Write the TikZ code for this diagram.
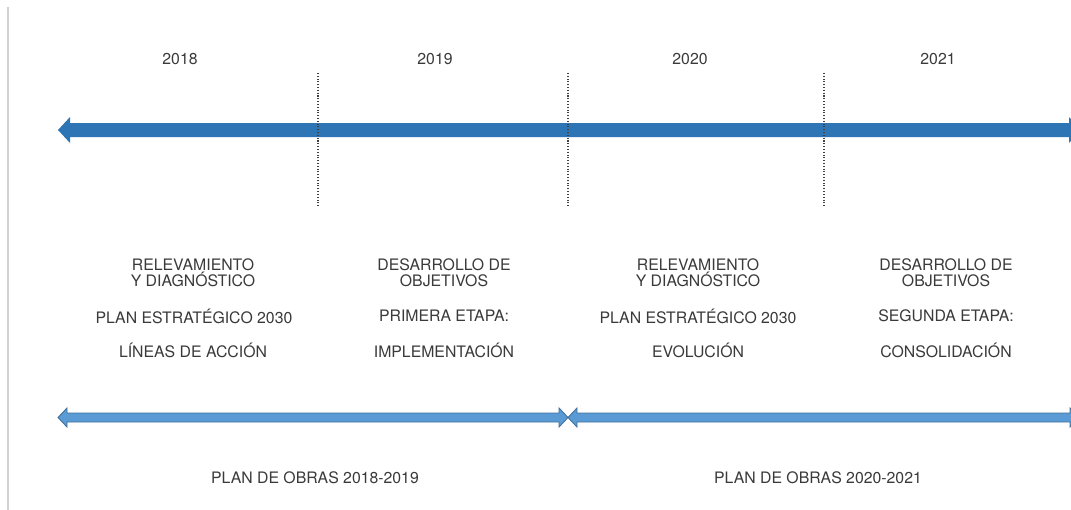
\documentclass[tikz,border=0pt]{standalone}
\usepackage{fontspec}
\setmainfont{TeX Gyre Heros}
\usetikzlibrary{positioning}

\definecolor{lineablue}{HTML}{2E75B6}
\definecolor{obrasblue}{HTML}{5B9BD5}
\definecolor{obrasedge}{HTML}{41719C}
\definecolor{texto}{HTML}{3A3A3A}

% double headed block arrow: style, x left, x right, y, half shaft, half head, head length
\newcommand{\flechadoble}[7]{%
  \path[#1] (#2,#4) -- (#2+#7,#4-#6) -- (#2+#7,#4-#5) -- (#3-#7,#4-#5) -- (#3-#7,#4-#6)
    -- (#3,#4) -- (#3-#7,#4+#6) -- (#3-#7,#4+#5) -- (#2+#7,#4+#5) -- (#2+#7,#4+#6) -- cycle;}

\tikzset{
  txt/.style={text=texto, font=\fontsize{9}{9.2}\selectfont, align=center, inner sep=0pt},
  corte/.style={densely dotted, line width=0.6pt, black!75},
}

\begin{document}
\begin{tikzpicture}[x=0.02cm,y=-0.02cm]
\clip (0,0) rectangle (1071,510);
\fill [white] (0,0) rectangle (1071,510);

\draw [gray!35, line width=0.6pt] (8,7) -- (8,510);

% years
\foreach \x/\a in {180/2018,435/2019,690/2020,938/2021}
  \node [txt] (anio\a) at (\x,59) {\a};

% main timeline
\flechadoble{fill=lineablue}{58}{1081}{130}{7}{13}{12}
\foreach \x in {318,568,824}
  \draw [corte] (\x,73) -- (\x,207);

% stages
\node [txt] (rel1) at (193,273) {RELEVAMIENTO\\Y DIAGNÓSTICO};
\node [txt] (pla1) at (194,316) {PLAN ESTRATÉGICO 2030};
\node [txt] (lin1) at (193,350) {LÍNEAS DE ACCIÓN};

\node [txt] (des1) at (444,273) {DESARROLLO DE\\OBJETIVOS};
\node [txt] (eta1) at (444,316) {PRIMERA ETAPA:};
\node [txt] (imp1) at (444,350) {IMPLEMENTACIÓN};

\node [txt] (rel2) at (698,273) {RELEVAMIENTO\\Y DIAGNÓSTICO};
\node [txt] (pla2) at (698,316) {PLAN ESTRATÉGICO 2030};
\node [txt] (evo2) at (698,350) {EVOLUCIÓN};

\node [txt] (des2) at (946,273) {DESARROLLO DE\\OBJETIVOS};
\node [txt] (eta2) at (946,316) {SEGUNDA ETAPA:};
\node [txt] (con2) at (946,350) {CONSOLIDACIÓN};

% plan de obras
\flechadoble{fill=obrasblue, draw=obrasedge, line width=0.5pt}{58}{568}{417.5}{4.5}{9.5}{9}
\flechadoble{fill=obrasblue, draw=obrasedge, line width=0.5pt}{568}{1079}{417.5}{4.5}{9.5}{9}

\node [txt] (obras1) at (315,478) {PLAN DE OBRAS 2018-2019};
\node [txt] (obras2) at (818,478) {PLAN DE OBRAS 2020-2021};

\end{tikzpicture}
\end{document}
